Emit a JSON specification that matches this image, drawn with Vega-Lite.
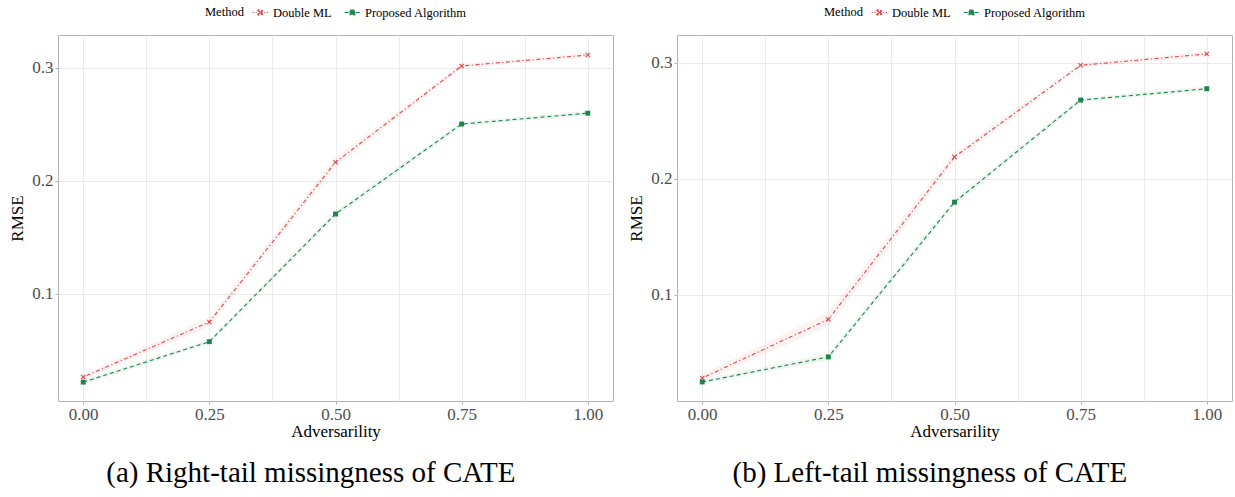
{
  "$schema": "https://vega.github.io/schema/vega-lite/v6.json",
  "padding": {"left": 8, "top": 3, "right": 4, "bottom": 2},
  "autosize": {"type": "pad"},
  "spacing": 13,
  "config": {
    "font": "Liberation Serif",
    "view": {"stroke": "#b3b3b3", "strokeWidth": 1},
    "axis": {
      "labelFont": "Liberation Serif", "labelFontSize": 17, "labelColor": "#4d4d4d",
      "titleFont": "Liberation Serif", "titleFontSize": 17, "titleFontWeight": "normal", "titleColor": "black",
      "domain": false, "tickColor": "#b3b3b3", "tickSize": 3, "labelPadding": 2,
      "gridColor": "#ebebeb", "gridWidth": 1
    },
    "axisX": {"titlePadding": 1},
    "axisY": {"titlePadding": 5},
    "legend": {
      "orient": "top", "direction": "horizontal", "titleOrient": "left",
      "titleFont": "Liberation Serif", "titleFontSize": 12.5, "titleFontWeight": "normal", "titleColor": "black",
      "labelFont": "Liberation Serif", "labelFontSize": 12.5, "labelColor": "black",
      "symbolType": "stroke", "symbolSize": 250, "symbolStrokeWidth": 1.2,
      "columnPadding": 10, "titlePadding": 8, "offset": 16,
      "layout": {"top": {"anchor": "middle"}}
    },
    "title": {"font": "Liberation Serif", "fontSize": 29, "fontWeight": "normal", "color": "black"}
  },
  "datasets": {
    "right_tail": [
      {"adv": 0.0, "method": "Double ML", "rmse": 0.0265, "lo": 0.0245, "hi": 0.0285},
      {"adv": 0.25, "method": "Double ML", "rmse": 0.0752, "lo": 0.0712, "hi": 0.0792},
      {"adv": 0.5, "method": "Double ML", "rmse": 0.2166, "lo": 0.2126, "hi": 0.2206},
      {"adv": 0.75, "method": "Double ML", "rmse": 0.3018, "lo": 0.2998, "hi": 0.3038},
      {"adv": 1.0, "method": "Double ML", "rmse": 0.3115, "lo": 0.3095, "hi": 0.3135},
      {"adv": 0.0, "method": "Proposed Algorithm", "rmse": 0.022, "lo": 0.020, "hi": 0.024},
      {"adv": 0.25, "method": "Proposed Algorithm", "rmse": 0.0578, "lo": 0.0558, "hi": 0.0598},
      {"adv": 0.5, "method": "Proposed Algorithm", "rmse": 0.1708, "lo": 0.1678, "hi": 0.1738},
      {"adv": 0.75, "method": "Proposed Algorithm", "rmse": 0.2504, "lo": 0.2484, "hi": 0.2524},
      {"adv": 1.0, "method": "Proposed Algorithm", "rmse": 0.260, "lo": 0.258, "hi": 0.262}
    ],
    "left_tail": [
      {"adv": 0.0, "method": "Double ML", "rmse": 0.0284, "lo": 0.0254, "hi": 0.0314},
      {"adv": 0.25, "method": "Double ML", "rmse": 0.079, "lo": 0.073, "hi": 0.085},
      {"adv": 0.5, "method": "Double ML", "rmse": 0.219, "lo": 0.215, "hi": 0.223},
      {"adv": 0.75, "method": "Double ML", "rmse": 0.298, "lo": 0.296, "hi": 0.300},
      {"adv": 1.0, "method": "Double ML", "rmse": 0.3078, "lo": 0.3058, "hi": 0.3098},
      {"adv": 0.0, "method": "Proposed Algorithm", "rmse": 0.025, "lo": 0.023, "hi": 0.027},
      {"adv": 0.25, "method": "Proposed Algorithm", "rmse": 0.0466, "lo": 0.0436, "hi": 0.0496},
      {"adv": 0.5, "method": "Proposed Algorithm", "rmse": 0.180, "lo": 0.177, "hi": 0.183},
      {"adv": 0.75, "method": "Proposed Algorithm", "rmse": 0.268, "lo": 0.266, "hi": 0.270},
      {"adv": 1.0, "method": "Proposed Algorithm", "rmse": 0.2778, "lo": 0.2758, "hi": 0.2798}
    ]
  },
  "resolve": {
    "scale": {"color": "independent", "strokeDash": "independent"},
    "legend": {"color": "independent", "strokeDash": "independent"}
  },
  "hconcat": [
    {
      "width": 555, "height": 366,
      "data": {"name": "right_tail"},
      "title": {"text": "(a) Right-tail missingness of CATE", "orient": "bottom", "anchor": "middle", "frame": "bounds", "offset": 20},
      "encoding": {
        "x": {
          "field": "adv", "type": "quantitative", "title": "Adversarility",
          "scale": {"domain": [-0.05, 1.05], "nice": false, "zero": false},
          "axis": {
            "values": [0, 0.125, 0.25, 0.375, 0.5, 0.625, 0.75, 0.875, 1],
            "labelExpr": "datum.value % 0.25 === 0 ? format(datum.value, '.2f') : ''",
            "tickColor": {"condition": {"test": "datum.value % 0.25 !== 0", "value": "transparent"}, "value": "#b3b3b3"}
          }
        },
        "y": {"field": "rmse", "type": "quantitative", "title": "RMSE", "scale": {"domain": [0.0053, 0.3292], "nice": false, "zero": false}, "axis": {"values": [0.1, 0.2, 0.3], "format": ".1f"}}
      },
      "layer": [
        {
          "transform": [{"filter": "datum.method === 'Double ML'"}],
          "mark": {"type": "area", "opacity": 0.07, "color": "#E0474C"},
          "encoding": {"y": {"field": "lo", "type": "quantitative", "title": "RMSE"}, "y2": {"field": "hi"}}
        },
        {
          "transform": [{"filter": "datum.method === 'Proposed Algorithm'"}],
          "mark": {"type": "area", "opacity": 0.07, "color": "#1E8449"},
          "encoding": {"y": {"field": "lo", "type": "quantitative", "title": "RMSE"}, "y2": {"field": "hi"}}
        },
        {
          "mark": {"type": "line", "strokeWidth": 1.1},
          "encoding": {
            "color": {"field": "method", "type": "nominal", "title": "Method", "scale": {"domain": ["Double ML", "Proposed Algorithm"], "range": ["#E0474C", "#1E8449"]},
              "legend": {"encode": {"symbols": {"update": {
                "shape": {"signal": "datum.value === 'Double ML' ? 'M-1,0H-0.8M-0.62,0H-0.48M0.48,0H0.62M0.8,0H1M-0.35,-0.245L-0.105,0L-0.35,0.245L-0.245,0.35L0,0.105L0.245,0.35L0.35,0.245L0.105,0L0.35,-0.245L0.245,-0.35L0,-0.105L-0.245,-0.35Z' : 'M-1,0H-0.4M0.4,0H1M-0.3,-0.3H0.3V0.3H-0.3Z'"},
                "fill": {"signal": "datum.value === 'Double ML' ? '#E0474C' : '#1E8449'"},
                "strokeDash": {"value": [1, 0]},
                "strokeWidth": {"value": 1.1}
              }}}}
            },
            "strokeDash": {"field": "method", "type": "nominal", "title": "Method", "scale": {"domain": ["Double ML", "Proposed Algorithm"], "range": [[1.2, 2.5, 4, 2.5], [4, 3]]}}
          }
        },
        {
          "transform": [{"filter": "datum.method === 'Double ML'"}],
          "mark": {"type": "point", "filled": true, "opacity": 1, "size": 26, "strokeWidth": 0, "color": "#E0474C", "shape": "M-1,-0.7L-0.3,0L-1,0.7L-0.7,1L0,0.3L0.7,1L1,0.7L0.3,0L1,-0.7L0.7,-1L0,-0.3L-0.7,-1Z"}
        },
        {
          "transform": [{"filter": "datum.method === 'Proposed Algorithm'"}],
          "mark": {"type": "point", "filled": true, "opacity": 1, "size": 24, "strokeWidth": 0, "color": "#1E8449", "shape": "square"}
        }
      ]
    },
    {
      "width": 555, "height": 366,
      "data": {"name": "left_tail"},
      "title": {"text": "(b) Left-tail missingness of CATE", "orient": "bottom", "anchor": "middle", "frame": "bounds", "offset": 20},
      "encoding": {
        "x": {
          "field": "adv", "type": "quantitative", "title": "Adversarility",
          "scale": {"domain": [-0.05, 1.05], "nice": false, "zero": false},
          "axis": {
            "values": [0, 0.125, 0.25, 0.375, 0.5, 0.625, 0.75, 0.875, 1],
            "labelExpr": "datum.value % 0.25 === 0 ? format(datum.value, '.2f') : ''",
            "tickColor": {"condition": {"test": "datum.value % 0.25 !== 0", "value": "transparent"}, "value": "#b3b3b3"}
          }
        },
        "y": {"field": "rmse", "type": "quantitative", "title": "RMSE", "scale": {"domain": [0.0086, 0.3241], "nice": false, "zero": false}, "axis": {"values": [0.1, 0.2, 0.3], "format": ".1f"}}
      },
      "layer": [
        {
          "transform": [{"filter": "datum.method === 'Double ML'"}],
          "mark": {"type": "area", "opacity": 0.07, "color": "#E0474C"},
          "encoding": {"y": {"field": "lo", "type": "quantitative", "title": "RMSE"}, "y2": {"field": "hi"}}
        },
        {
          "transform": [{"filter": "datum.method === 'Proposed Algorithm'"}],
          "mark": {"type": "area", "opacity": 0.07, "color": "#1E8449"},
          "encoding": {"y": {"field": "lo", "type": "quantitative", "title": "RMSE"}, "y2": {"field": "hi"}}
        },
        {
          "mark": {"type": "line", "strokeWidth": 1.1},
          "encoding": {
            "color": {"field": "method", "type": "nominal", "title": "Method", "scale": {"domain": ["Double ML", "Proposed Algorithm"], "range": ["#E0474C", "#1E8449"]},
              "legend": {"encode": {"symbols": {"update": {
                "shape": {"signal": "datum.value === 'Double ML' ? 'M-1,0H-0.8M-0.62,0H-0.48M0.48,0H0.62M0.8,0H1M-0.35,-0.245L-0.105,0L-0.35,0.245L-0.245,0.35L0,0.105L0.245,0.35L0.35,0.245L0.105,0L0.35,-0.245L0.245,-0.35L0,-0.105L-0.245,-0.35Z' : 'M-1,0H-0.4M0.4,0H1M-0.3,-0.3H0.3V0.3H-0.3Z'"},
                "fill": {"signal": "datum.value === 'Double ML' ? '#E0474C' : '#1E8449'"},
                "strokeDash": {"value": [1, 0]},
                "strokeWidth": {"value": 1.1}
              }}}}
            },
            "strokeDash": {"field": "method", "type": "nominal", "title": "Method", "scale": {"domain": ["Double ML", "Proposed Algorithm"], "range": [[1.2, 2.5, 4, 2.5], [4, 3]]}}
          }
        },
        {
          "transform": [{"filter": "datum.method === 'Double ML'"}],
          "mark": {"type": "point", "filled": true, "opacity": 1, "size": 26, "strokeWidth": 0, "color": "#E0474C", "shape": "M-1,-0.7L-0.3,0L-1,0.7L-0.7,1L0,0.3L0.7,1L1,0.7L0.3,0L1,-0.7L0.7,-1L0,-0.3L-0.7,-1Z"}
        },
        {
          "transform": [{"filter": "datum.method === 'Proposed Algorithm'"}],
          "mark": {"type": "point", "filled": true, "opacity": 1, "size": 24, "strokeWidth": 0, "color": "#1E8449", "shape": "square"}
        }
      ]
    }
  ]
}
